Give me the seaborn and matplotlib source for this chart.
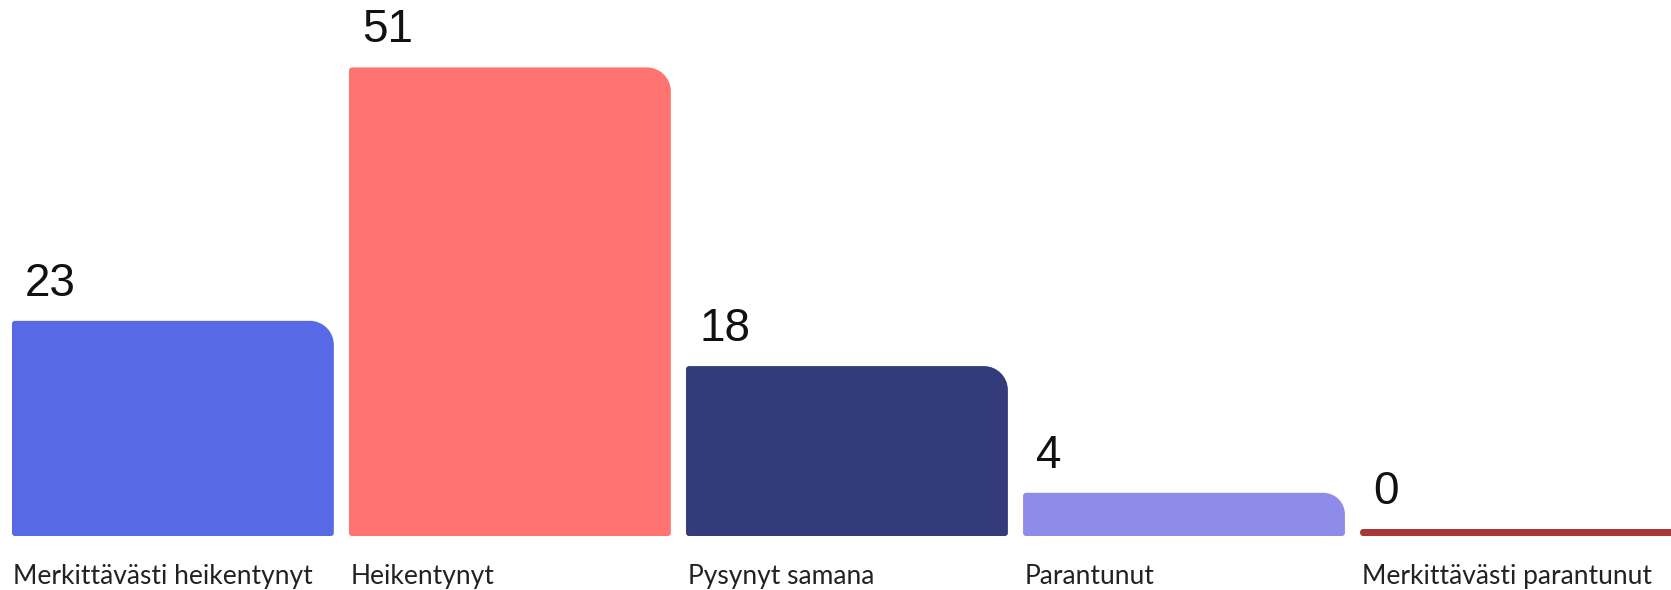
import numpy as np
import pandas as pd
import matplotlib.pyplot as plt
import seaborn as sns
from matplotlib.path import Path
from matplotlib.patches import PathPatch

# data
categories = ["Merkittävästi heikentynyt", "Heikentynyt", "Pysynyt samana",
              "Parantunut", "Merkittävästi parantunut"]
values = [23, 51, 18, 4, 0]
colors = ["#5869E6", "#FF7471", "#333B7A", "#8E8CE8", "#A8393A"]

df = pd.DataFrame({"cat": categories, "val": values})

sns.set_style("white")
plt.rcParams['font.family'] = ['Liberation Sans', 'DejaVu Sans']

fig = plt.figure(figsize=(16.71, 5.9), dpi=100)
ax = fig.add_axes([0, 0, 1, 1])
sns.barplot(data=df, x="cat", y="val", hue="cat", palette=colors,
            legend=False, width=0.955, saturation=1, ax=ax)
ax.set_xlim(-0.513, 4.445)
ax.set_ylim(-6.74, 58.45)
ax.axis("off")

# pixels per data unit
p0 = ax.transData.transform((0, 0))
p1 = ax.transData.transform((1, 1))
sx, sy = p1[0] - p0[0], p1[1] - p0[1]
PX = 0.72  # px -> points at 100 dpi
base = 7 / sy  # every bar sits on a thin base strip, so 0 still shows


def rounded_path(x0, y0, x1, y1, radii):
    # radii in px: bottom-left, bottom-right, top-right, top-left
    w_px, h_px = (x1 - x0) * sx, (y1 - y0) * sy
    lim = min(w_px, h_px) / 2
    bl, br, tr, tl = [min(r, lim) for r in radii]
    k = 0.5523
    rx = lambda r: r / sx
    ry = lambda r: r / sy
    verts = [
        (x0 + rx(bl), y0),
        (x1 - rx(br), y0),
        (x1 - rx(br) + k * rx(br), y0), (x1, y0 + ry(br) - k * ry(br)), (x1, y0 + ry(br)),
        (x1, y1 - ry(tr)),
        (x1, y1 - ry(tr) + k * ry(tr)), (x1 - rx(tr) + k * rx(tr), y1), (x1 - rx(tr), y1),
        (x0 + rx(tl), y1),
        (x0 + rx(tl) - k * rx(tl), y1), (x0, y1 - ry(tl) + k * ry(tl)), (x0, y1 - ry(tl)),
        (x0, y0 + ry(bl)),
        (x0, y0 + ry(bl) - k * ry(bl)), (x0 + rx(bl) - k * rx(bl), y0), (x0 + rx(bl), y0),
        (0, 0),
    ]
    codes = [Path.MOVETO, Path.LINETO] + [Path.CURVE4] * 3 + [Path.LINETO] + \
            [Path.CURVE4] * 3 + [Path.LINETO] + [Path.CURVE4] * 3 + \
            [Path.LINETO] + [Path.CURVE4] * 3 + [Path.CLOSEPOLY]
    return Path(verts, codes)


for patch, val, cat in zip(ax.patches, values, categories):
    x0 = patch.get_x()
    w = patch.get_width()
    h = patch.get_height()
    fc = patch.get_facecolor()
    patch.set_visible(False)
    ax.add_patch(PathPatch(rounded_path(x0, -base, x0 + w, h, [3, 3, 24, 3]),
                           facecolor=fc, edgecolor="none"))
    ax.annotate(f"{val}", xy=(x0, h), xytext=(13 * PX, 25 * PX),
                textcoords="offset points", ha="left", va="baseline",
                fontsize=33, color="#111111")
    ax.annotate(cat, xy=(x0, -base), xytext=(1.5 * PX, -48 * PX),
                textcoords="offset points", ha="left", va="baseline",
                fontsize=19, color="#222222", family=["Lato", "DejaVu Sans"])

fig.savefig("out.png", dpi=100, facecolor="white")
